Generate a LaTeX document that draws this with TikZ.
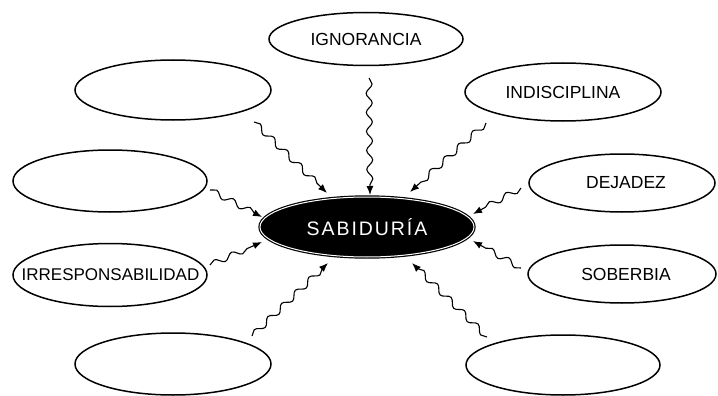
\documentclass[tikz,border=0pt]{standalone}
\usepackage{fontspec}
\setmainfont{Liberation Sans}
\newfontfamily\sabfont[LetterSpace=10]{Liberation Sans}
\usetikzlibrary{shapes.geometric,decorations.pathmorphing,arrows.meta}
\begin{document}
\begin{tikzpicture}[x=1pt,y=-1pt,
  oval/.style={ellipse, draw=black, line width=1.5pt, inner sep=0pt, fill=white,
    font=\fontsize{17.5}{20}\selectfont},
  center/.style={ellipse, draw=black, double=white, double distance=1pt, line width=1.2pt,
    fill=black, inner sep=0pt, text=white, font=\sabfont\fontsize{19.5}{22}\selectfont},
  wav/.style={decorate, decoration={snake, amplitude=3pt, segment length=19pt, post length=7pt},
    line width=1.1pt, -{Latex[length=9pt,width=7pt]}}]
\useasboundingbox (0,0) rectangle (718,396);
\fill[white] (0,0) rectangle (718,396);

\node[center, minimum width=214pt, minimum height=60pt] (sab) at (367,227) {\makebox[0pt]{SABIDURÍA}};
\node[oval, minimum width=194pt, minimum height=53pt] (ign) at (366,39) {\makebox[0pt]{IGNORANCIA}};
\node[oval, minimum width=196pt, minimum height=60pt] (tl) at (173,90) {};
\node[oval, minimum width=196pt, minimum height=58pt] (ind) at (563,92) {\makebox[0pt]{INDISCIPLINA}};
\node[oval, minimum width=194pt, minimum height=62pt] (lm) at (110,181) {};
\node[oval, minimum width=186pt, minimum height=58pt] (dej) at (622,183) {\makebox[0pt]{\hspace*{8pt}DEJADEZ}};
\node[oval, minimum width=194pt, minimum height=63pt, font=\fontsize{17}{20}\selectfont] (irr) at (110,275) {\makebox[0pt]{\hspace*{1pt}IRRESPONSABILIDAD}};
\node[oval, minimum width=188pt, minimum height=58pt] (sob) at (622,274) {\makebox[0pt]{\hspace*{8pt}SOBERBIA}};
\node[oval, minimum width=196pt, minimum height=62pt] (bl) at (173,364) {};
\node[oval, minimum width=194pt, minimum height=60pt] (br) at (563,365) {};

\coordinate (sign) at (369,78);  \coordinate (eign) at (370,195);
\coordinate (stl) at (254,122);  \coordinate (etl) at (327,193);
\coordinate (sind) at (486,123); \coordinate (eind) at (410,192);
\coordinate (slm) at (210,190);  \coordinate (elm) at (262,217);
\coordinate (sdej) at (521,188); \coordinate (edej) at (473,214);
\coordinate (sirr) at (210,265); \coordinate (eirr) at (262,242);
\coordinate (ssob) at (521,268); \coordinate (esob) at (473,241);
\coordinate (sbl) at (252,336);  \coordinate (ebl) at (328,263);
\coordinate (sbr) at (487,337);  \coordinate (ebr) at (412,263);

\draw[wav] (sign) -- (eign);
\draw[wav] (stl) -- (etl);
\draw[wav] (sind) -- (eind);
\draw[wav] (slm) -- (elm);
\draw[wav] (sdej) -- (edej);
\draw[wav] (sirr) -- (eirr);
\draw[wav] (ssob) -- (esob);
\draw[wav] (sbl) -- (ebl);
\draw[wav] (sbr) -- (ebr);
\end{tikzpicture}
\end{document}
